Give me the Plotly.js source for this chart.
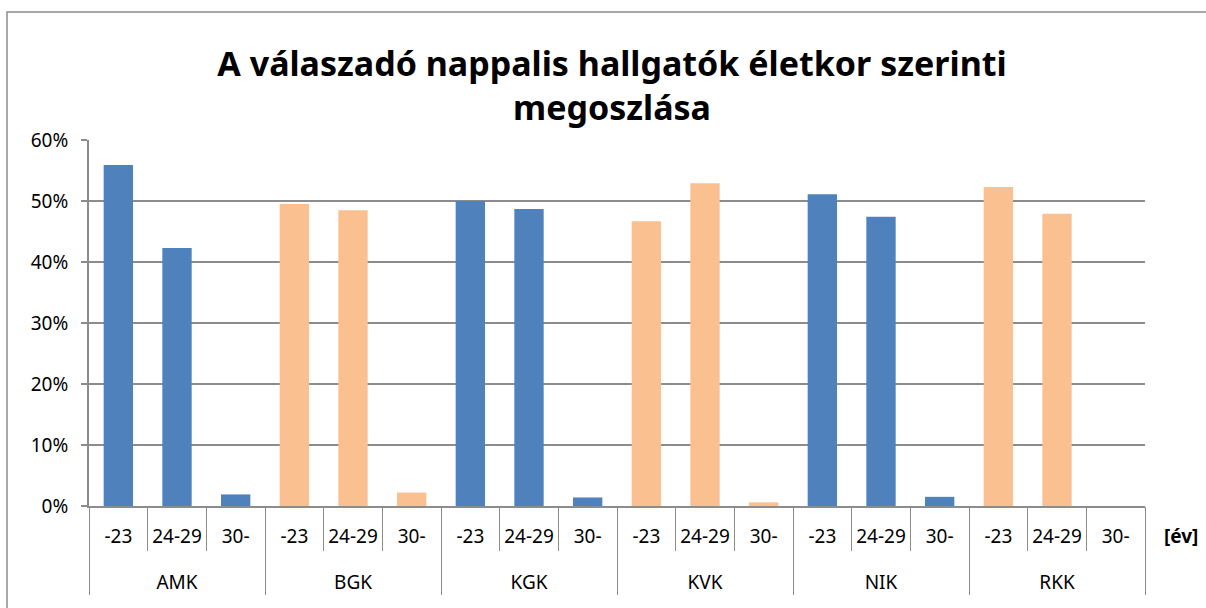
<!DOCTYPE html>
<html>
<head>
<meta charset="utf-8">
<script src="https://cdn.plot.ly/plotly-3.0.1.min.js"></script>
<style>
  html, body { margin: 0; padding: 0; background: #ffffff; }
  #chart { width: 1206px; height: 608px; }
</style>
</head>
<body>
<div id="chart"></div>
<script>
// Faculties (groups) and age bands
const faculties = ["AMK", "BGK", "KGK", "KVK", "NIK", "RKK"];
const ageBands = ["-23", "24-29", "30-"];

// Share of respondents per faculty and age band (fraction)
const amk = [0.559, 0.423, 0.019];
const bgk = [0.495, 0.485, 0.022];
const kgk = [0.500, 0.487, 0.014];
const kvk = [0.467, 0.529, 0.006];
const nik = [0.511, 0.474, 0.015];
const rkk = [0.523, 0.479, 0.000];

const facultyValues = [amk, bgk, kgk, kvk, nik, rkk];
const facultyColors = ["#4F81BD", "#FAC090", "#4F81BD", "#FAC090", "#4F81BD", "#FAC090"];

const yTickVals = [0, 0.1, 0.2, 0.3, 0.4, 0.5, 0.6];
const yTickText = ["0%", "10%", "20%", "30%", "40%", "50%", "60%"];

const titleText = "A válaszadó nappalis hallgatók életkor szerinti<br>megoszlása";
const unitLabel = "[év]";

// Build category keys (unique), age tick labels, values, colours
const keys = [], ageLabels = [], yVals = [], colors = [];
faculties.forEach((f, i) => {
  ageBands.forEach((a, j) => {
    keys.push(f + " " + a);
    ageLabels.push(a);
    yVals.push(facultyValues[i][j]);
    colors.push(facultyColors[i]);
  });
});
const nBands = ageBands.length;
const nCats = keys.length;
const groupCenters = faculties.map((f, i) => i * nBands + (nBands - 1) / 2);

const FONT = "Noto Sans, Open Sans, sans-serif";
const GRID = "#8c8c8c";
const TICKSIZE = 19;

const bars = {
  type: "bar",
  x: keys,
  y: yVals,
  marker: { color: colors, line: { width: 0 } },
  hoverinfo: "y"
};
// invisible helpers so the overlay axes (dividers, faculty labels) are drawn
const helper2 = {
  type: "scatter", mode: "markers", xaxis: "x2", yaxis: "y",
  x: groupCenters, y: groupCenters.map(() => 0),
  marker: { opacity: 0, size: 1 }, hoverinfo: "skip", showlegend: false
};
const helper3 = Object.assign({}, helper2, { xaxis: "x3" });

// plot area: x 89..1145, y 140..506
const L = 89, R = 1206 - 1145, T = 140, B = 608 - 506;
const pw = 1206 - L - R, ph = 608 - T - B;

const layout = {
  width: 1206,
  height: 608,
  margin: { l: L, r: R, t: T, b: B, pad: 0 },
  paper_bgcolor: "#ffffff",
  plot_bgcolor: "#ffffff",
  showlegend: false,
  bargap: 0.5,
  title: {
    text: titleText,
    font: { family: FONT, size: 34, color: "#000000", weight: "bold" },
    xref: "container", yref: "container",
    x: 612 / 1206, xanchor: "center",
    y: (608 - 76) / 608, yanchor: "middle"
  },
  font: { family: FONT, size: TICKSIZE, color: "#000000" },
  xaxis: {
    type: "category",
    categoryorder: "array",
    categoryarray: keys,
    tickmode: "array",
    tickvals: keys,
    ticktext: ageLabels,
    showline: true,
    linecolor: GRID,
    linewidth: 2,
    ticks: "",
    ticklabelstandoff: 12,
    tickfont: { family: FONT, size: TICKSIZE, color: "#000000" },
    showgrid: false,
    zeroline: false,
    fixedrange: true
  },
  // boundaries: long dividers between faculties, short ticks between age bands
  xaxis2: {
    overlaying: "x",
    anchor: "y",
    side: "bottom",
    type: "linear",
    range: [-0.5, nCats - 0.5],
    tickmode: "linear",
    tick0: -0.5,
    dtick: nBands,
    ticks: "outside",
    ticklen: 88,
    tickcolor: GRID,
    tickwidth: 1,
    minor: { tick0: -0.5, dtick: 1, ticks: "outside", ticklen: 44, tickcolor: GRID, tickwidth: 1 },
    showticklabels: false,
    showgrid: false,
    showline: false,
    zeroline: false,
    fixedrange: true
  },
  // faculty labels
  xaxis3: {
    overlaying: "x",
    anchor: "y",
    side: "bottom",
    type: "linear",
    range: [-0.5, nCats - 0.5],
    tickmode: "array",
    tickvals: groupCenters,
    ticktext: faculties,
    ticks: "",
    ticklabelstandoff: 63,
    tickfont: { family: FONT, size: TICKSIZE, color: "#000000" },
    showgrid: false,
    showline: false,
    zeroline: false,
    fixedrange: true
  },
  yaxis: {
    range: [0, 0.6],
    tickmode: "array",
    tickvals: yTickVals,
    ticktext: yTickText,
    showgrid: true,
    gridcolor: GRID,
    gridwidth: 2,
    showline: true,
    linecolor: GRID,
    linewidth: 2,
    ticks: "outside",
    ticklen: 6,
    tickcolor: GRID,
    tickwidth: 2,
    ticklabelstandoff: 9,
    zeroline: false,
    tickfont: { family: FONT, size: TICKSIZE, color: "#000000" },
    fixedrange: true
  },
  annotations: [{
    text: "<b>" + unitLabel + "</b>",
    xref: "paper", yref: "paper",
    x: (1181 - L) / pw, y: -(536 - 506) / ph,
    xanchor: "center", yanchor: "middle",
    showarrow: false,
    font: { family: FONT, size: TICKSIZE, color: "#000000" }
  }],
  shapes: [{
    type: "rect",
    xref: "paper", yref: "paper",
    x0: (7 - L) / pw, x1: (1215 - L) / pw,
    y0: -(620 - 506) / ph, y1: (506 - 12) / ph,
    line: { color: "#8c8c8c", width: 1.5 },
    fillcolor: "rgba(0,0,0,0)",
    layer: "below"
  }]
};

Plotly.newPlot("chart", [bars, helper2, helper3], layout, { displayModeBar: false, staticPlot: true });
</script>
</body>
</html>
